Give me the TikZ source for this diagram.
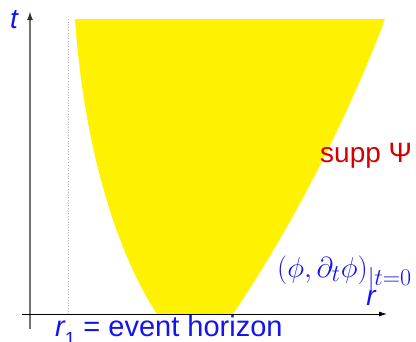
\documentclass[tikz,border=0pt]{standalone}
\usepackage{graphicx}
\usepackage{fontspec}
\setmainfont{Liberation Sans}
\usetikzlibrary{arrows.meta}
\definecolor{lblblue}{RGB}{20,20,240}
\definecolor{lblred}{RGB}{210,0,0}
\tikzset{
  lbl/.style={inner sep=0pt, font=\fontsize{28}{32}\selectfont},
  region/.style={fill=yellow, draw=none},
  axisline/.style={-{Latex[length=8pt,width=5pt]}}
}
\begin{document}
\begin{tikzpicture}[x=1pt,y=-1pt]
\useasboundingbox (0,0) rectangle (416,341);
% support region
\path[region] (75,19) -- (385,19)
  .. controls (355,100) and (300,215) .. (233,314)
  -- (157,314)
  .. controls (118,255) and (84,150) .. (75,19) -- cycle;
% horizon line
\coordinate (hb) at (68,314);
\coordinate (ht) at (68,19);
\draw[gray!60, dotted, line width=0.7pt] (hb) -- (ht);
% axes
\coordinate (vb) at (30,329);
\coordinate (vt) at (30,11);
\coordinate (hl) at (22,314);
\coordinate (hr) at (387,314);
\draw[black!55, line width=2.2pt, -{Latex[length=9pt,width=6pt,color=black!80]}] (vb) -- (vt);
\draw[axisline, black, line width=0.8pt] (hl) -- (hr);
% labels
\node[lbl, text=lblblue, anchor=base] (tl) at (14,28) {\itshape t};
\node[lbl, text=lblblue, anchor=base] (rl) at (371,305) {\itshape r};
\node[lbl, text=lblblue, anchor=base west, font=\fontsize{29}{32}\selectfont] (hz) at (55,336) {{\itshape r}\raisebox{-0.32em}{\fontsize{19}{20}\selectfont 1} = event horizon};
\node[lbl, text=lblred, anchor=base west] (sp) at (320,162) {supp Ψ};
\node[lbl, text=lblblue, anchor=base west] (id) at (277,277) {\scalebox{1.16}{$(\phi,\partial_t\phi)_{|t=0}$}};
\end{tikzpicture}
\end{document}
